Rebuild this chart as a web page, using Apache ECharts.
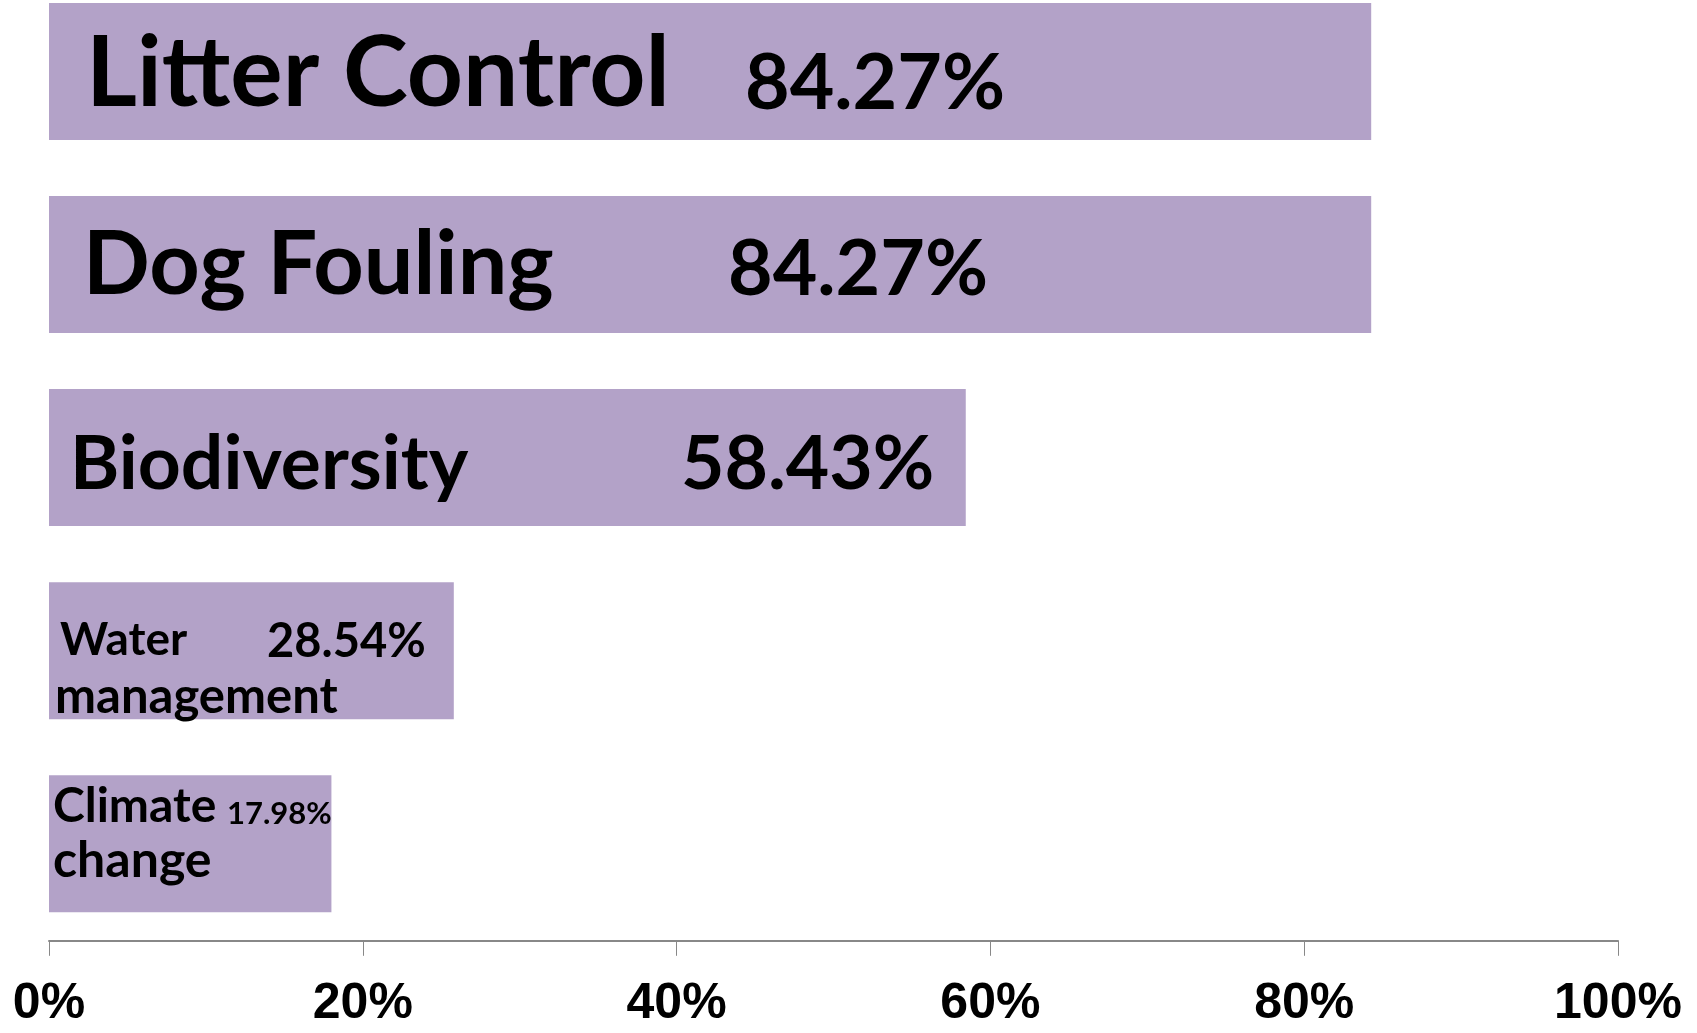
<!DOCTYPE html>
<html>
<head>
<meta charset="utf-8">
<title>Topics</title>
<script src="https://cdn.jsdelivr.net/npm/echarts@6/dist/echarts.min.js"></script>
<style>
html,body{margin:0;padding:0;background:#fff;}
#main{width:1697px;height:1033px;}
</style>
</head>
<body>
<div id="main"></div>
<script>
// 类别 / 数值
var categories = ['Litter Control', 'Dog Fouling', 'Biodiversity', 'Water management', 'Climate change'];
var values = [84.27, 84.27, 58.43, 25.8, 18.0];
var valueTexts = ['84.27%', '84.27%', '58.43%', '28.54%', '17.98%'];
var xTicks = ['0%', '20%', '40%', '60%', '80%', '100%'];

// 每个柱子里文字的排版 (与数据分开)
var labelLayout = [
	{dx: 37, dy: 3, nameSize: 98, valueSize: 77, nameWidth: 659, wrap: false},
	{dx: 34, dy: 1, nameSize: 88, valueSize: 77, nameWidth: 645, wrap: false},
	{dx: 21, dy: 7, nameSize: 75, valueSize: 75, nameWidth: 611, wrap: false},
	{dx: 6, dy: 18, nameSize: 46, secondSize: 49, valueSize: 47, nameWidth: 212, lead: 5, lineH: 58, vShift: 3, wrap: true},
	{dx: 4, dy: -10, nameSize: 48, secondSize: 50, valueSize: 31, nameWidth: 174, lead: 0, lineH: 55, vShift: 0, wrap: true}
];
var K = 0.45; // 基线修正

var barColor = '#b3a2c8';
var myChart = echarts.init(document.getElementById('main'));

function makeLabel(i){
	var lay = labelLayout[i];
	var font = 'Lato';
	var rich = {};
	var text = '';
	var ln = lay.wrap ? lay.lineH : lay.nameSize * 1.2;
	var d = lay.nameSize - lay.valueSize;
	var vs = lay.vShift || 0;
	rich.n = {fontFamily: font, fontWeight: 'bold', fontSize: lay.nameSize, color: '#000', width: lay.nameWidth - (lay.lead || 0), padding: [0, 0, 0, lay.lead || 0], lineHeight: ln};
	rich.v = {fontFamily: font, fontWeight: 'bold', fontSize: lay.valueSize, color: '#000', lineHeight: ln, height: ln - 2 * K * d - 2 * vs, verticalAlign: 'bottom'};
	if(!lay.wrap){
		text = '{n|' + categories[i] + '}{v|' + valueTexts[i] + '}';
	} else {
		var words = categories[i].split(' ');
		rich.m = {fontFamily: font, fontWeight: 'bold', fontSize: lay.secondSize, color: '#000', lineHeight: ln};
		text = '{n|' + words[0] + '}{v|' + valueTexts[i] + '}\n{m|' + words.slice(1).join(' ') + '}';
	}
	return {
		show: true,
		position: [lay.dx, '50%'],
		offset: [0, lay.dy],
		align: 'left',
		verticalAlign: 'middle',
		formatter: text,
		rich: rich
	};
}

var seriesData = [];
for(var i = 0; i < categories.length; i++){
	seriesData.push({value: values[i], label: makeLabel(i)});
}

var option = {
	animation: false,
	grid: {left: 49, right: 79, top: 71.4, bottom: 189.2},
	xAxis: {
		type: 'value',
		min: 0,
		max: 100,
		interval: 20,
		offset: 97,
		axisLine: {show: true, lineStyle: {color: '#888', width: 2}},
		axisTick: {show: true, length: 15, lineStyle: {color: '#888', width: 1}},
		splitLine: {show: false},
		axisLabel: {
			margin: 38,
			fontFamily: 'Liberation Sans',
			fontWeight: 'bold',
			fontSize: 50,
			color: '#000',
			formatter: function(v){ return xTicks[v / 20]; }
		}
	},
	yAxis: {
		type: 'category',
		inverse: true,
		boundaryGap: false,
		data: categories,
		show: false
	},
	series: [{
		type: 'bar',
		data: seriesData,
		barWidth: 137,
		clip: false,
		itemStyle: {color: barColor}
	}]
};
myChart.setOption(option);
</script>
</body>
</html>
